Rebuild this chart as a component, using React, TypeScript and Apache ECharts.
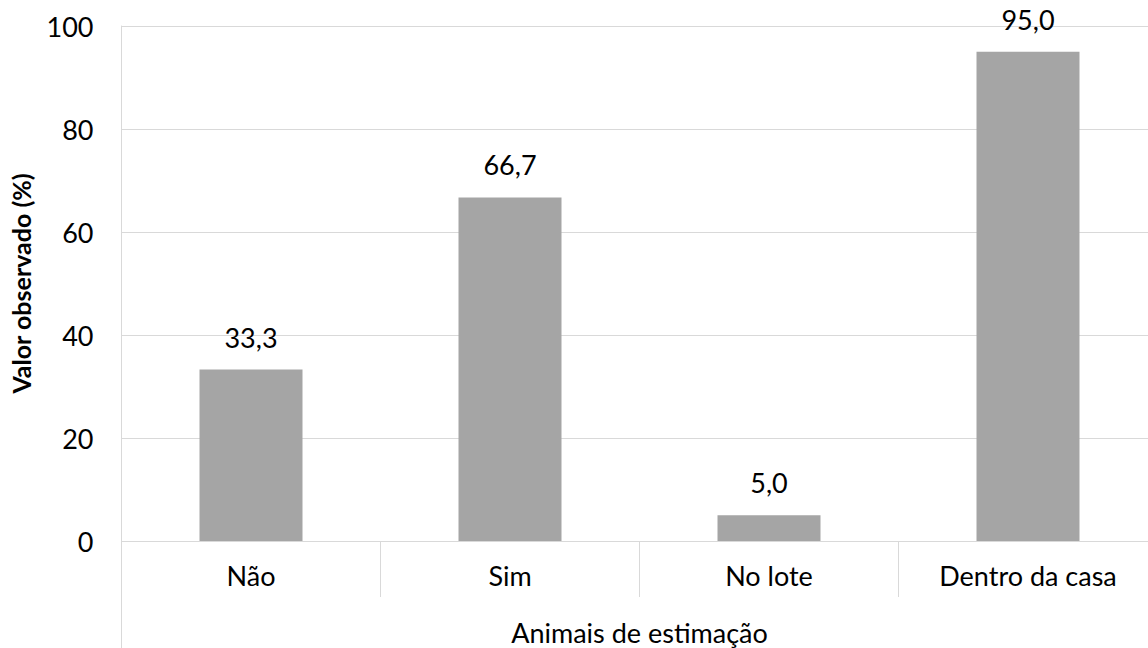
import React, { useEffect, useRef } from "react";
import * as echarts from "echarts";

const categories = ["Não", "Sim", "No lote", "Dentro da casa"];
const values = [33.3, 66.7, 5.0, 95.0];
const groupLabel = ["Animais de estimação"];
const yTitle = "Valor observado (%)";

const FONT = "Lato";

export default function App() {
  const ref = useRef<HTMLDivElement>(null);
  useEffect(() => {
    if (!ref.current) return;
    const chart = echarts.init(ref.current, null, { renderer: "svg" });
    const gridPos = { left: 121.5, top: 26, right: 2.5, bottom: 107, containLabel: false, outerBoundsMode: "none" };
    chart.setOption({
      animation: false,
      backgroundColor: "#fff",
      textStyle: { fontFamily: FONT },
      grid: [{ ...gridPos }, { ...gridPos }],
      xAxis: [
        {
          type: "category",
          gridIndex: 0,
          data: categories,
          axisLine: { show: true, lineStyle: { color: "#D9D9D9", width: 1 } },
          axisTick: { show: true, length: 56, lineStyle: { color: "#D9D9D9" } },
          axisLabel: { color: "#000", fontSize: 27, fontFamily: FONT, margin: 21 },
        },
        {
          type: "category",
          gridIndex: 1,
          data: groupLabel,
          axisLine: { show: false },
          axisTick: { show: true, length: 107, lineStyle: { color: "#D9D9D9" } },
          axisLabel: { color: "#000", fontSize: 27, fontFamily: FONT, margin: 78 },
        },
      ],
      yAxis: [
        {
          type: "value",
          gridIndex: 0,
          min: 0,
          max: 100,
          interval: 20,
          name: yTitle,
          nameLocation: "middle",
          nameRotate: 90,
          nameGap: 88,
          nameTextStyle: { color: "#000", fontSize: 25, fontWeight: "bold", fontFamily: FONT },
          axisLine: { show: true, lineStyle: { color: "#D9D9D9" } },
          axisTick: { show: false },
          splitLine: { show: true, lineStyle: { color: "#D9D9D9", width: 1 } },
          axisLabel: { color: "#000", fontSize: 27, fontFamily: FONT, margin: 28 },
        },
        {
          type: "value",
          gridIndex: 1,
          min: 0,
          max: 100,
          show: false,
        },
      ],
      series: [
        {
          type: "bar",
          xAxisIndex: 0,
          yAxisIndex: 0,
          data: values,
          barWidth: 103,
          itemStyle: { color: "#A5A5A5" },
          label: {
            show: true,
            position: "top",
            distance: 19,
            color: "#000",
            fontSize: 27,
            fontFamily: FONT,
            formatter: (p: any) => Number(p.value).toFixed(1).replace(".", ","),
          },
        },
      ],
    });
    return () => chart.dispose();
  }, []);
  return (
    <div style={{ position: "absolute", left: 0, top: 0, width: 1148, height: 648, overflow: "hidden", background: "#fff" }}>
      <div ref={ref} style={{ width: 1160, height: 648 }} />
    </div>
  );
}
